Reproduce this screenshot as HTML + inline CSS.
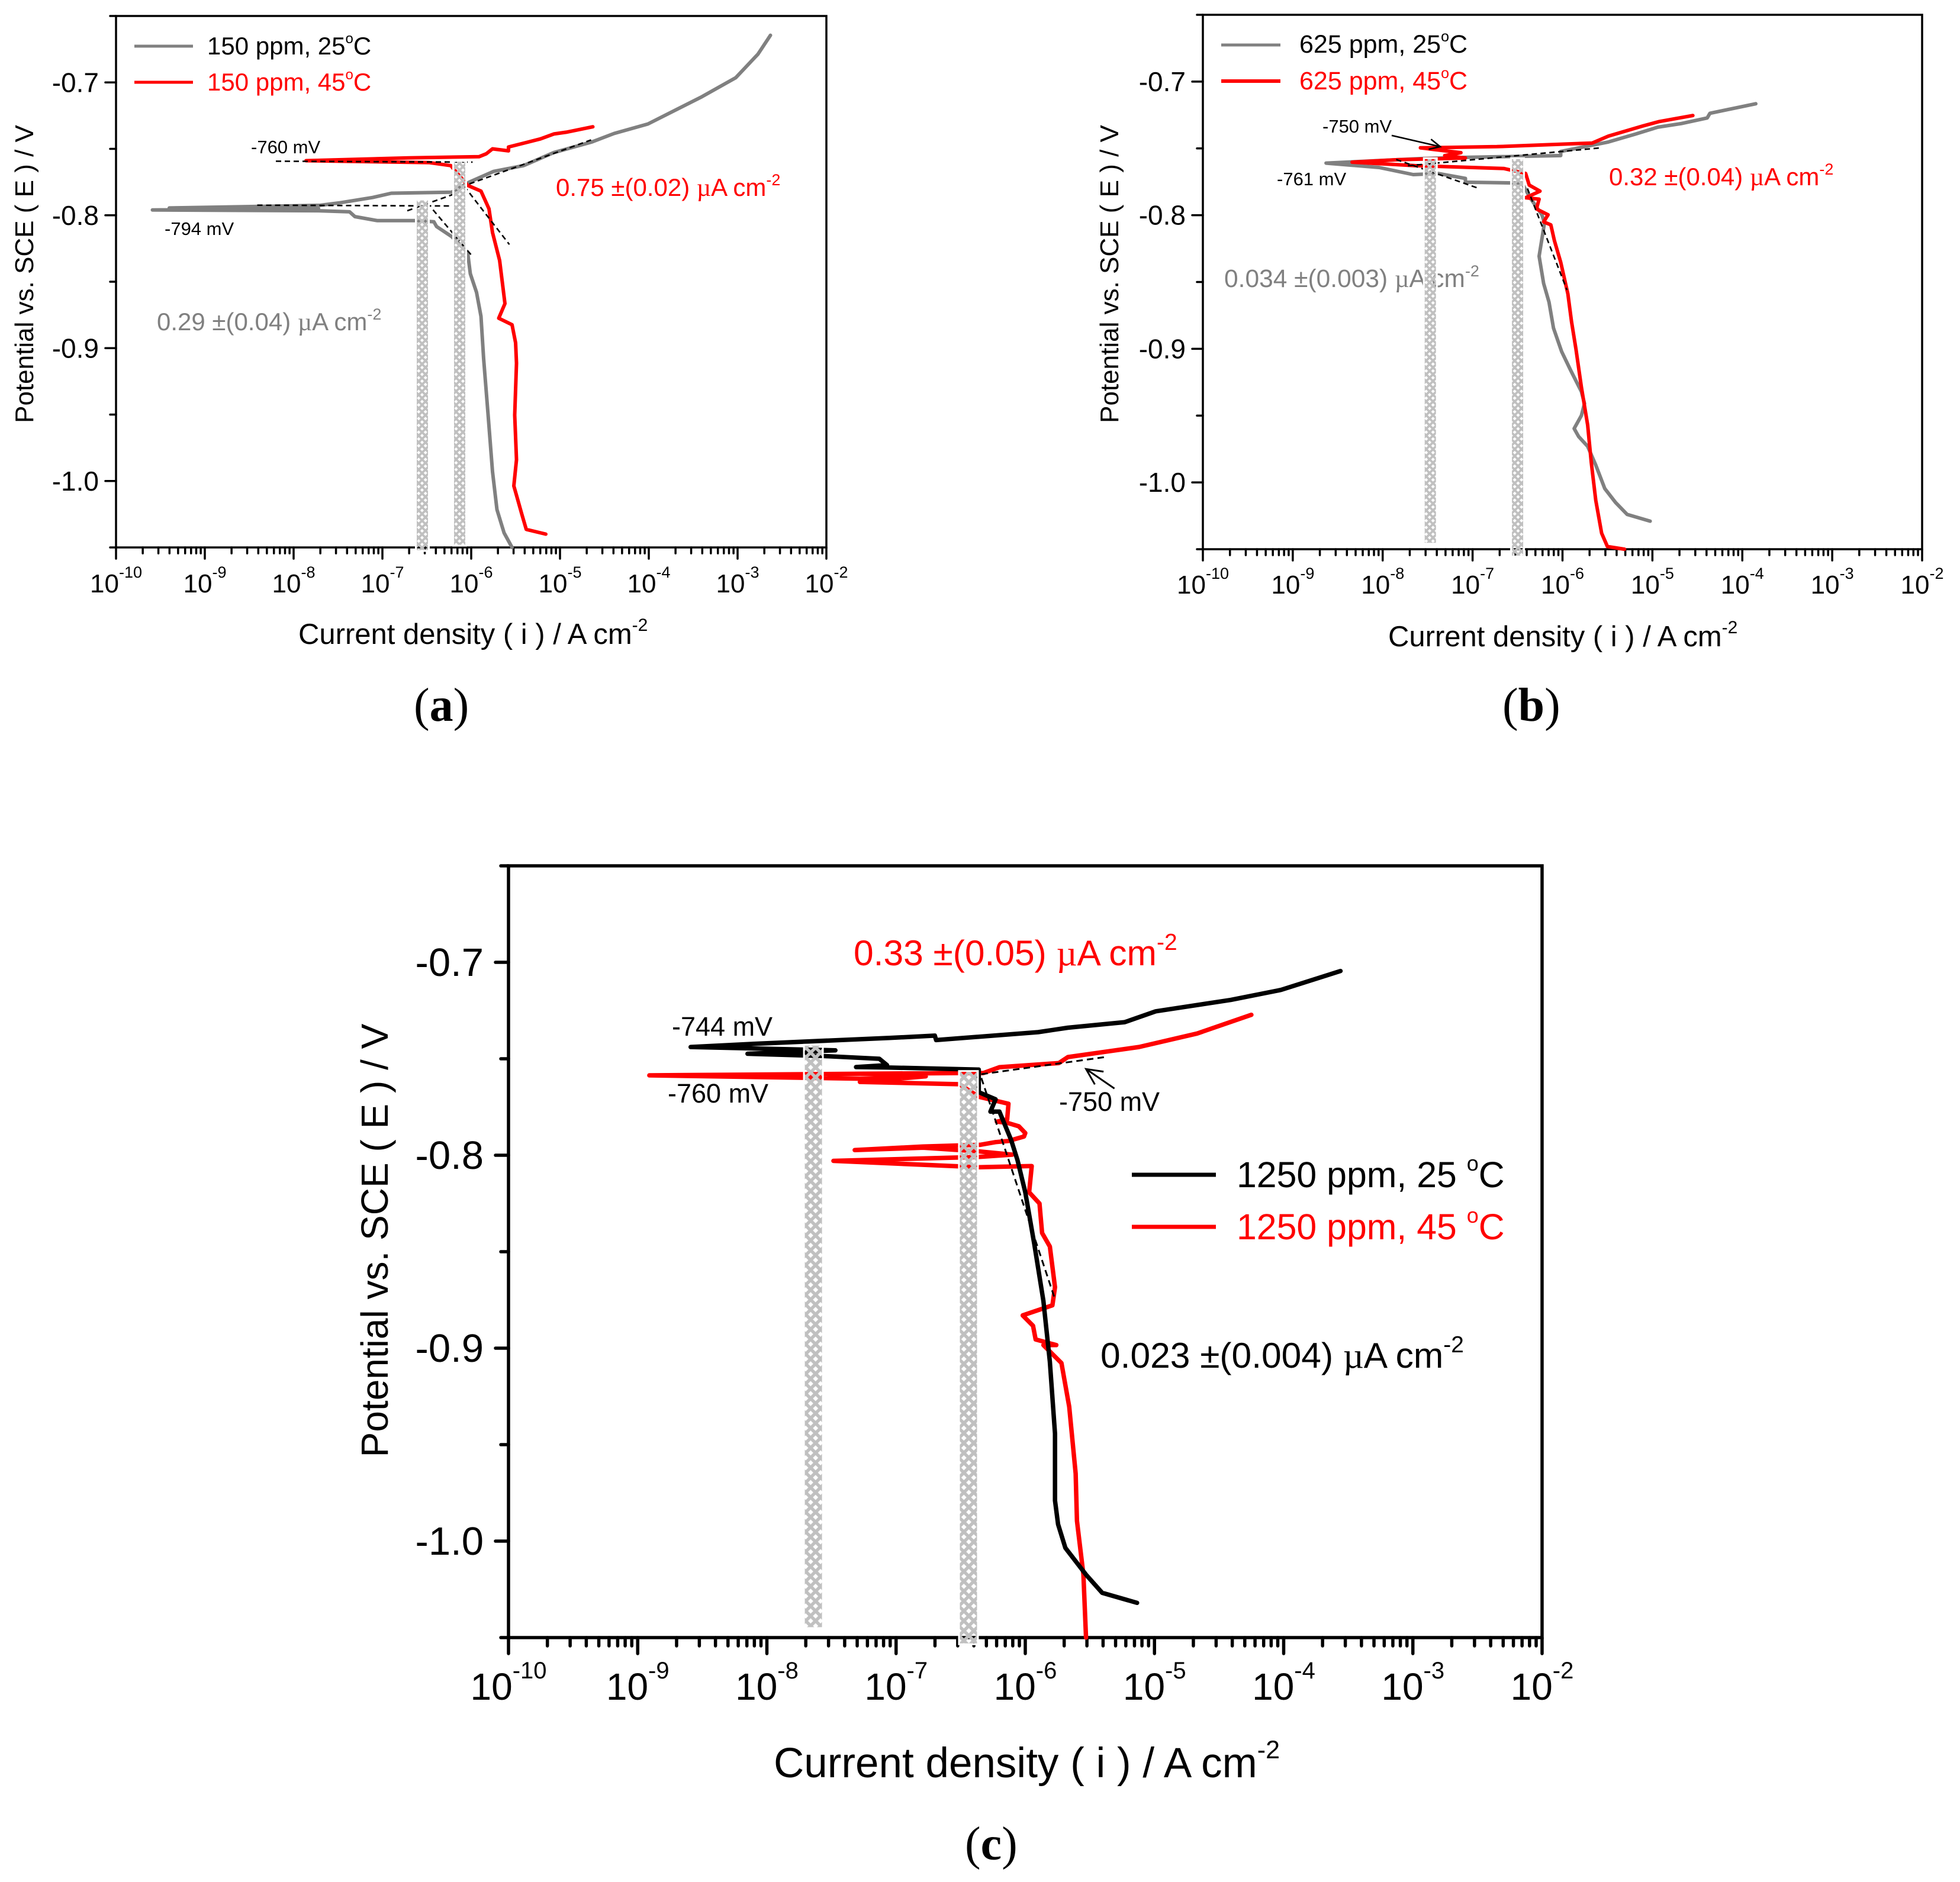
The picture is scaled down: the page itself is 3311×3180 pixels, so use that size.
<!DOCTYPE html>
<html lang="en">
<head>
<meta charset="utf-8">
<title>Potentiodynamic polarization curves</title>
<style>
html,body{margin:0;padding:0;background:#fff;}
svg{display:block;}
text{font-family:"Liberation Sans",sans-serif;}
.mu{font-family:"Liberation Serif",serif;}
.cap{font-family:"Liberation Serif",serif;font-size:78px;}
</style>
</head>
<body>
<svg id="figure" xmlns="http://www.w3.org/2000/svg" width="3311" height="3180" viewBox="0 0 3311 3180">
<defs>
<pattern id="hatchSmall" patternUnits="userSpaceOnUse" width="11.5" height="11.5">
<path fill="#c0c0c0" fill-rule="evenodd" d="M0 0H11.5V11.5H0Z M5.75 2.7L8.8 5.75L5.75 8.8L2.7 5.75Z M0 0H3L0 3Z M11.5 0V3L8.5 0Z M0 11.5V8.5L3 11.5Z M11.5 11.5H8.5L11.5 8.5Z"/>
</pattern>
<pattern id="hatchLarge" patternUnits="userSpaceOnUse" width="16.7" height="16.7">
<path fill="#c0c0c0" fill-rule="evenodd" d="M0 0H16.7V16.7H0Z M8.35 3.9L12.8 8.35L8.35 12.8L3.9 8.35Z M0 0H4.4L0 4.4Z M16.7 0V4.4L12.3 0Z M0 16.7V12.3L4.4 16.7Z M16.7 16.7H12.3L16.7 12.3Z"/>
</pattern>
</defs>
<rect width="3311" height="3180" fill="#fff"/>

<g id="panel-a">
  <g id="a-axes"></g>
  <text transform="translate(56 463) rotate(-90)" text-anchor="middle" font-size="44">Potential vs. SCE ( E ) / V</text>
  <text x="504" y="1088" font-size="49">Current density ( i ) / A cm<tspan font-size="30" dy="-22">-2</tspan></text>
  <line x1="227" x2="326" y1="78" y2="78" stroke="#808080" stroke-width="5"/>
  <line x1="227" x2="326" y1="139" y2="139" stroke="#ff0000" stroke-width="5"/>
  <text x="350" y="92" font-size="42">150 ppm, 25<tspan font-size="24" dy="-19">o</tspan><tspan dy="19">C</tspan></text>
  <text x="350" y="153" font-size="42" fill="#ff0000">150 ppm, 45<tspan font-size="24" dy="-19">o</tspan><tspan dy="19">C</tspan></text>
  <text x="424" y="259" font-size="31">-760 mV</text>
  <text x="278" y="397" font-size="31">-794 mV</text>
  <text x="939" y="331" font-size="42" fill="#ff0000">0.75 ±(0.02) <tspan class="mu">µ</tspan>A cm<tspan font-size="27" dy="-18">-2</tspan></text>
  <text x="265" y="558" font-size="42" fill="#808080">0.29 ±(0.04) <tspan class="mu">µ</tspan>A cm<tspan font-size="27" dy="-18">-2</tspan></text>
  <g id="a-marks"></g>
  <text class="cap" x="699" y="1218" font-size="80" style="font-size:80px">(<tspan font-weight="bold">a</tspan>)</text>
</g>

<g id="panel-b">
  <g id="b-axes"></g>
  <text transform="translate(1889 463) rotate(-90)" text-anchor="middle" font-size="44">Potential vs. SCE ( E ) / V</text>
  <text x="2345" y="1092" font-size="49">Current density ( i ) / A cm<tspan font-size="30" dy="-22">-2</tspan></text>
  <line x1="2063" x2="2163" y1="76" y2="76" stroke="#808080" stroke-width="5"/>
  <line x1="2063" x2="2163" y1="137" y2="137" stroke="#ff0000" stroke-width="6"/>
  <text x="2195" y="89" font-size="43">625 ppm, 25<tspan font-size="25" dy="-19">o</tspan><tspan dy="19">C</tspan></text>
  <text x="2195" y="151" font-size="43" fill="#ff0000">625 ppm, 45<tspan font-size="25" dy="-19">o</tspan><tspan dy="19">C</tspan></text>
  <text x="2234" y="224" font-size="31">-750 mV</text>
  <text x="2157" y="313" font-size="31">-761 mV</text>
  <text x="2718" y="313" font-size="42" fill="#ff0000">0.32 ±(0.04) <tspan class="mu">µ</tspan>A cm<tspan font-size="27" dy="-18">-2</tspan></text>
  <text x="2068" y="485" font-size="42.5" fill="#808080">0.034 ±(0.003) <tspan class="mu">µ</tspan>A cm<tspan font-size="27" dy="-18">-2</tspan></text>
  <g id="b-marks"></g>
  <text class="cap" x="2538" y="1218" style="font-size:80px">(<tspan font-weight="bold">b</tspan>)</text>
</g>

<g id="panel-c">
  <g id="c-axes"></g>
  <text transform="translate(655 2096) rotate(-90)" text-anchor="middle" font-size="64">Potential vs. SCE ( E ) / V</text>
  <text x="1307" y="3003" font-size="71">Current density ( i ) / A cm<tspan font-size="43" dy="-32">-2</tspan></text>
  <line x1="1912" x2="2054" y1="1985" y2="1985" stroke="#000" stroke-width="7"/>
  <line x1="1912" x2="2054" y1="2073" y2="2073" stroke="#ff0000" stroke-width="7"/>
  <text x="2089" y="2006" font-size="60.8">1250 ppm, 25 <tspan font-size="36" dy="-28">o</tspan><tspan dy="28">C</tspan></text>
  <text x="2089" y="2094" font-size="60.8" fill="#ff0000">1250 ppm, 45 <tspan font-size="36" dy="-28">o</tspan><tspan dy="28">C</tspan></text>
  <text x="1135" y="1750" font-size="45">-744 mV</text>
  <text x="1128" y="1863" font-size="45">-760 mV</text>
  <text x="1789" y="1877" font-size="45">-750 mV</text>
  <text x="1442" y="1631" font-size="60.5" fill="#ff0000">0.33 ±(0.05) <tspan class="mu">µ</tspan>A cm<tspan font-size="39" dy="-26">-2</tspan></text>
  <text x="1859" y="2311" font-size="60.5">0.023 ±(0.004) <tspan class="mu">µ</tspan>A cm<tspan font-size="39" dy="-26">-2</tspan></text>
  <g id="c-marks"></g>
  <text class="cap" x="1630" y="3142" style="font-size:80px">(<tspan font-weight="bold">c</tspan>)</text>
</g>
</svg>

<script>
// Axis tick values
const decadeTicks = [-10, -9, -8, -7, -6, -5, -4, -3, -2];
const decadeLabels = ['-10', '-9', '-8', '-7', '-6', '-5', '-4', '-3', '-2'];
const minorMultipliers = [2, 3, 4, 5, 6, 7, 8, 9];
const potentialMajor = [-0.7, -0.8, -0.9, -1.0];
const potentialLabels = ['-0.7', '-0.8', '-0.9', '-1.0'];
const potentialMinor = [-0.65, -0.75, -0.85, -0.95, -1.05];

// Panel (a) 150 ppm : log10(current density) and potential (V)
const aGrayLogI = [-5.54,-5.63,-5.71,-5.76,-5.81,-5.86,-5.89,-5.94,-6.01,-6.04,-6.22,-6.39,-6.42,-6.62,-7.06,-7.31,-7.37,-7.72,-9.59,-7.72,-9.4,-7.70,-7.49,-7.11,-6.9,-6.22,-6.02,-5.75,-5.41,-5.07,-4.64,-4.39,-4.01,-3.40,-3.02,-2.77,-2.63];
const aGrayE = [-1.05,-1.039,-1.0215,-0.993,-0.95,-0.908,-0.876,-0.858,-0.844,-0.828,-0.816,-0.8085,-0.8049,-0.804,-0.804,-0.801,-0.7974,-0.7966,-0.796,-0.7948,-0.7945,-0.7925,-0.7907,-0.7866,-0.7834,-0.7826,-0.775,-0.767,-0.7626,-0.7528,-0.7448,-0.7384,-0.7313,-0.7107,-0.6964,-0.6787,-0.6645];
const aRedLogI = [-5.16,-5.38,-5.43,-5.475,-5.52,-5.49,-5.51,-5.49,-5.50,-5.54,-5.69,-5.62,-5.68,-5.76,-5.80,-5.89,-6.04,-6.23,-6.47,-7.86,-6.70,-5.91,-5.83,-5.76,-5.58,-5.58,-5.22,-5.07,-4.93,-4.63];
const aRedE = [-1.04,-1.0364,-1.025,-1.0144,-1.0037,-0.984,-0.9504,-0.9114,-0.896,-0.8824,-0.8775,-0.8665,-0.834,-0.813,-0.7951,-0.7818,-0.7775,-0.7626,-0.7604,-0.7589,-0.7568,-0.7559,-0.7537,-0.75,-0.7515,-0.7486,-0.7425,-0.7388,-0.7375,-0.7334];
const aTangentLogI = [[-8.2,-5.985],[-6.08,-5.57],[-6.02,-4.65],[-8.41,-6.21],[-6.72,-6.14],[-6.43,-5.98]];
const aTangentE = [[-0.7593,-0.76],[-0.778,-0.822],[-0.7764,-0.7433],[-0.7924,-0.793],[-0.7966,-0.7828],[-0.7959,-0.8314]];
const aBarLogI = [-6.55, -6.13];
const aBarTopE = [-0.7888, -0.7597];
const aBarBottomE = [-1.052, -1.048];

// Panel (b) 625 ppm
const bGrayLogI = [-5.025,-5.28,-5.41,-5.53,-5.63,-5.72,-5.82,-5.87,-5.79,-5.755,-5.79,-5.91,-6.01,-6.10,-6.15,-6.21,-6.26,-6.20,-6.23,-6.36,-6.45,-7.08,-7.08,-7.38,-7.66,-8.04,-8.63,-7.56,-7.08,-6.02,-6.02,-5.49,-5.19,-4.94,-4.68,-4.39,-4.36,-3.85];
const bGrayE = [-1.029,-1.024,-1.015,-1.0046,-0.987,-0.973,-0.9657,-0.9597,-0.95,-0.941,-0.932,-0.916,-0.902,-0.8845,-0.865,-0.851,-0.8307,-0.8057,-0.7996,-0.787,-0.776,-0.7753,-0.7725,-0.7688,-0.7696,-0.7643,-0.761,-0.7576,-0.7567,-0.7554,-0.7523,-0.7452,-0.7393,-0.7341,-0.7314,-0.7272,-0.7237,-0.7166];
const bRedLogI = [-5.31,-5.50,-5.565,-5.63,-5.68,-5.72,-5.79,-5.85,-5.90,-5.94,-6.02,-6.09,-6.13,-6.21,-6.16,-6.29,-6.26,-6.41,-6.25,-6.37,-6.41,-6.65,-7.64,-8.34,-7.84,-7.08,-7.31,-7.13,-7.58,-6.73,-5.67,-5.49,-5.11,-4.93,-4.55];
const bRedE = [-1.05,-1.048,-1.038,-1.0134,-0.985,-0.957,-0.9286,-0.9004,-0.8795,-0.8589,-0.8352,-0.819,-0.8072,-0.805,-0.7997,-0.7953,-0.788,-0.7869,-0.782,-0.7775,-0.7687,-0.7651,-0.7629,-0.7603,-0.7585,-0.7572,-0.7554,-0.7532,-0.7496,-0.7487,-0.746,-0.7408,-0.7333,-0.73,-0.7254];
const bTangentLogI = [[-7.85,-6.92],[-7.72,-5.56],[-6.39,-5.95]];
const bTangentE = [[-0.7583,-0.7802],[-0.763,-0.7495],[-0.78,-0.856]];
const bBarLogI = [-7.47, -6.5];
const bBarTopE = [-0.758, -0.758];
const bBarBottomE = [-1.0452, -1.0548];
const bArrowLogI = [-7.9, -7.36];
const bArrowE = [-0.7403, -0.7487];

// Panel (c) 1250 ppm
const cBlackLogI = [-5.135,-5.405,-5.53,-5.69,-5.746,-5.77,-5.77,-5.81,-5.86,-5.93,-6.0,-6.06,-6.11,-6.2,-6.27,-6.23,-6.36,-6.36,-7.07,-7.31,-7.07,-7.13,-7.56,-8.15,-7.47,-8.59,-8.05,-7.05,-6.70,-6.69,-5.90,-5.67,-5.23,-4.99,-4.41,-4.02,-3.56];
const cBlackE = [-1.032,-1.0268,-1.0174,-1.0035,-0.9913,-0.979,-0.9443,-0.907,-0.8755,-0.8462,-0.8192,-0.8026,-0.792,-0.7774,-0.7774,-0.771,-0.7673,-0.7556,-0.7545,-0.7543,-0.7533,-0.75,-0.7486,-0.7474,-0.7456,-0.7439,-0.7421,-0.7392,-0.738,-0.7403,-0.7362,-0.7339,-0.731,-0.7254,-0.7195,-0.7143,-0.7045];
const cRedLogI = [-5.53,-5.55,-5.60,-5.61,-5.66,-5.72,-5.86,-5.76,-5.92,-5.94,-6.02,-5.79,-5.77,-5.81,-5.87,-5.89,-5.97,-5.95,-6.36,-7.485,-6.36,-6.10,-6.36,-6.79,-7.32,-6.79,-6.35,-6.23,-6.13,-6.01,-6.0,-6.05,-6.14,-6.22,-6.14,-6.13,-6.36,-6.51,-7.28,-6.77,-7.28,-8.91,-6.51,-6.325,-6.2,-5.74,-5.67,-5.12,-4.67,-4.25];
const cRedE = [-1.05,-1.0174,-0.9895,-0.965,-0.9303,-0.9077,-0.8984,-0.8984,-0.8955,-0.8884,-0.883,-0.8778,-0.8684,-0.8473,-0.8403,-0.825,-0.8192,-0.8056,-0.8062,-0.8029,-0.8009,-0.7997,-0.798,-0.7961,-0.7973,-0.7955,-0.7946,-0.7932,-0.7926,-0.7903,-0.7885,-0.785,-0.7832,-0.7826,-0.7814,-0.7733,-0.7697,-0.7632,-0.762,-0.7591,-0.7603,-0.7586,-0.7574,-0.7574,-0.7544,-0.7522,-0.7491,-0.7439,-0.7369,-0.7272];
const cTangentLogI = [[-6.34,-5.37],[-6.34,-5.77]];
const cTangentE = [[-0.758,-0.749],[-0.76,-0.8746]];
const cBarLogI = [-7.64, -6.44];
const cBarTopE = [-0.7432, -0.7568];
const cBarBottomE = [-1.0446, -1.053];
const cArrowLogI = [-5.31, -5.53];
const cArrowE = [-0.7654, -0.7553];

const SVG_NS = 'http://www.w3.org/2000/svg';

function make(parent, tag, name, attrs) {
  const el = document.createElementNS(SVG_NS, tag);
  
  
  for (const key in attrs) el.setAttribute(key, attrs[key]);
  parent.appendChild(el);
  return el;
}

function drawPanel(id, box, style, series, tangents, bars, arrow) {
  const axes = document.getElementById(id + '-axes');
  const marks = document.getElementById(id + '-marks');
  const xOf = v => box.left + (v + 10) / 8 * (box.right - box.left);
  const yOf = e => box.top + (-0.65 - e) / 0.4 * (box.bottom - box.top);

  const lineStyle = {stroke: '#000', 'stroke-width': style.axisWidth, 'stroke-linecap': 'round'};

  // Frame
  make(axes, 'rect', id + '-frame', Object.assign({x: box.left, y: box.top, width: box.right - box.left, height: box.bottom - box.top, fill: 'none', stroke: '#000', 'stroke-width': style.axisWidth}));

  // X ticks
  decadeTicks.forEach((d, i) => {
    const x = xOf(d);
    make(axes, 'line', id + '-x-major-tick', Object.assign({x1: x, x2: x, y1: box.bottom, y2: box.bottom + style.xMajor}, lineStyle));
    const label = make(axes, 'text', id + '-x-tick-label', {x: x, y: style.xLabelY, 'text-anchor': 'middle', 'font-size': style.xLabelSize});
    label.textContent = '10';
    const exp = document.createElementNS(SVG_NS, 'tspan');
    exp.setAttribute('font-size', style.xSupSize);
    exp.setAttribute('dy', -style.xSupRise);
    exp.textContent = decadeLabels[i];
    label.appendChild(exp);
    if (d < -2) {
      minorMultipliers.forEach(m => {
        const xm = xOf(d + Math.log10(m));
        make(axes, 'line', id + '-x-minor-tick', Object.assign({x1: xm, x2: xm, y1: box.bottom, y2: box.bottom + style.xMinor}, lineStyle));
      });
    }
  });

  // Y ticks
  potentialMajor.forEach((e, i) => {
    const y = yOf(e);
    make(axes, 'line', id + '-y-major-tick', Object.assign({x1: box.left - style.yMajor, x2: box.left, y1: y, y2: y}, lineStyle));
    const label = make(axes, 'text', id + '-y-tick-label', {x: box.left - style.yLabelGap, y: y + style.yLabelDrop, 'text-anchor': 'end', 'font-size': style.yLabelSize});
    label.textContent = potentialLabels[i];
  });
  potentialMinor.forEach(e => {
    const y = yOf(e);
    make(axes, 'line', id + '-y-minor-tick', Object.assign({x1: box.left - style.yMinor, x2: box.left, y1: y, y2: y}, lineStyle));
  });

  // Curves
  series.forEach(s => {
    const pts = s.logI.map((v, i) => xOf(v).toFixed(1) + ',' + yOf(s.e[i]).toFixed(1)).join(' ');
    make(marks, 'polyline', s.name, {points: pts, fill: 'none', stroke: s.color, 'stroke-width': style.curveWidth, 'stroke-linejoin': 'round', 'stroke-linecap': 'round'});
  });

  // Tangent lines
  tangents.logI.forEach((pair, i) => {
    make(marks, 'line', id + '-tafel-tangent', {x1: xOf(pair[0]), x2: xOf(pair[1]), y1: yOf(tangents.e[i][0]), y2: yOf(tangents.e[i][1]), stroke: '#000', 'stroke-width': style.dashWidth, 'stroke-dasharray': style.dash});
  });

  // Arrow annotation
  if (arrow) {
    const x1 = xOf(arrow.logI[0]), y1 = yOf(arrow.e[0]), x2 = xOf(arrow.logI[1]), y2 = yOf(arrow.e[1]);
    const angle = Math.atan2(y2 - y1, x2 - x1);
    const head = style.arrowHead;
    const hx1 = x2 - head * Math.cos(angle - 0.45), hy1 = y2 - head * Math.sin(angle - 0.45);
    const hx2 = x2 - head * Math.cos(angle + 0.45), hy2 = y2 - head * Math.sin(angle + 0.45);
    make(marks, 'path', id + '-ecorr-arrow', {d: 'M' + x1 + ' ' + y1 + 'L' + x2 + ' ' + y2 + 'M' + hx1 + ' ' + hy1 + 'L' + x2 + ' ' + y2 + 'L' + hx2 + ' ' + hy2, fill: 'none', stroke: '#000', 'stroke-width': style.dashWidth});
  }

  // Icorr bars, patterned so curves show through the diamonds
  bars.logI.forEach((v, i) => {
    const yTop = yOf(bars.top[i]);
    const yBottom = yOf(bars.bottom[i]);
    make(marks, 'rect', id + '-icorr-bar', {x: xOf(v) - style.barWidth / 2 - 1.5, y: yTop - 1.5, width: style.barWidth + 3, height: yBottom - yTop + 3, fill: 'url(#' + style.hatch + ')', stroke: '#fff', 'stroke-width': 3});
  });
}

const smallStyle = {axisWidth: 3.5, xMajor: 19, xMinor: 10, yMajor: 18, yMinor: 10, xLabelSize: 44, xSupSize: 27, xSupRise: 25, yLabelSize: 46, yLabelGap: 29, yLabelDrop: 16, curveWidth: 6, dashWidth: 2.6, dash: '9 6', barWidth: 19, hatch: 'hatchSmall', arrowHead: 20};
const largeStyle = {axisWidth: 5.5, xMajor: 27, xMinor: 14, yMajor: 22, yMinor: 13, xLabelSize: 64, xSupSize: 40, xSupRise: 36, yLabelSize: 67, yLabelGap: 42, yLabelDrop: 23, curveWidth: 7.5, dashWidth: 3, dash: '11 7', barWidth: 29, hatch: 'hatchLarge', arrowHead: 30};

drawPanel('a', {left: 196, right: 1396, top: 27, bottom: 925}, Object.assign({}, smallStyle, {xLabelY: 1001}),
  [{name: 'curve-150ppm-25c', logI: aGrayLogI, e: aGrayE, color: '#808080'},
   {name: 'curve-150ppm-45c', logI: aRedLogI, e: aRedE, color: '#ff0000'}],
  {logI: aTangentLogI, e: aTangentE},
  {logI: aBarLogI, top: aBarTopE, bottom: aBarBottomE}, null);

drawPanel('b', {left: 2032, right: 3247, top: 25, bottom: 928}, Object.assign({}, smallStyle, {xLabelY: 1003}),
  [{name: 'curve-625ppm-25c', logI: bGrayLogI, e: bGrayE, color: '#808080'},
   {name: 'curve-625ppm-45c', logI: bRedLogI, e: bRedE, color: '#ff0000'}],
  {logI: bTangentLogI, e: bTangentE},
  {logI: bBarLogI, top: bBarTopE, bottom: bBarBottomE},
  {logI: bArrowLogI, e: bArrowE});

drawPanel('c', {left: 859, right: 2605, top: 1463, bottom: 2767}, Object.assign({}, largeStyle, {xLabelY: 2872}),
  [{name: 'curve-1250ppm-45c', logI: cRedLogI, e: cRedE, color: '#ff0000'},
   {name: 'curve-1250ppm-25c', logI: cBlackLogI, e: cBlackE, color: '#000000'}],
  {logI: cTangentLogI, e: cTangentE},
  {logI: cBarLogI, top: cBarTopE, bottom: cBarBottomE},
  {logI: cArrowLogI, e: cArrowE});
</script>
</body>
</html>
